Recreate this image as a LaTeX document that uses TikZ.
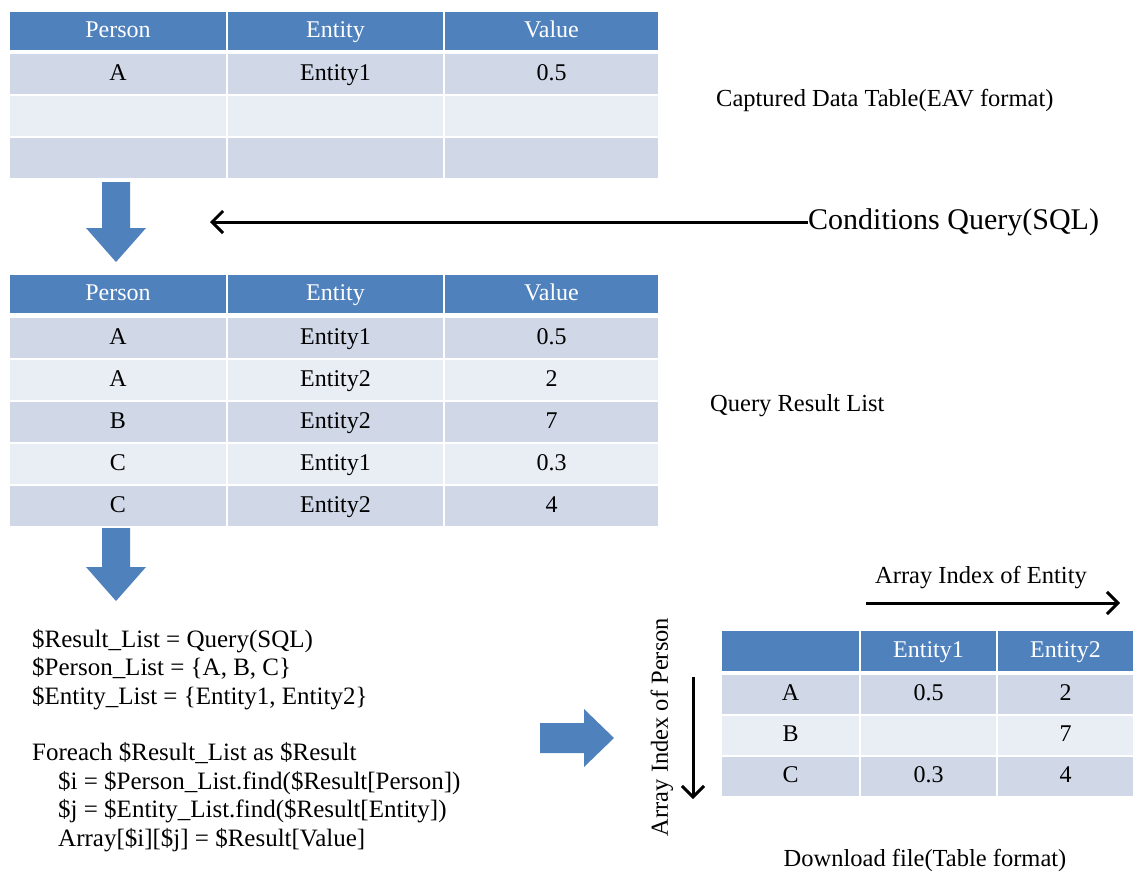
\documentclass[tikz,border=0pt]{standalone}
\usepackage{fontspec}
\setmainfont{Liberation Serif}
\usepackage{tikz}
\usetikzlibrary{arrows.meta}

\definecolor{headblue}{HTML}{4F81BD}
\definecolor{rowdark}{HTML}{D0D8E8}
\definecolor{rowlight}{HTML}{E9EDF4}

\begin{document}
\begin{tikzpicture}[x=1pt, y=-1pt,
  hcell/.style={fill=headblue, text=white, inner sep=0pt, minimum height=38, text height=17pt, text depth=5pt, font=\fontsize{24}{28}\selectfont},
  cell/.style={inner sep=0pt, minimum height=40, text height=17pt, text depth=5pt, font=\fontsize{24}{28}\selectfont},
  lbl/.style={inner sep=0pt, font=\fontsize{24.5}{28}\selectfont},
  flow/.style={line width=3pt, -{Straight Barb[length=11pt, width=22pt, line width=3pt]}},
  blockarrow/.style={fill=headblue}]
\fill[white] (0,0) rectangle (1133,873);
\useasboundingbox (0,0) rectangle (1133,873);

% captured data table (EAV)
\foreach \cx/\w/\txt [count=\i] in {118/216/Person, 335.5/215/Entity, 551.5/213/Value}
  \node[hcell, minimum width=\w] (cap-h\i) at (\cx,31) {\txt};
\foreach \cy/\fc/\a/\b/\c [count=\r] in {74/rowdark/A/Entity1/0.5, 116/rowlight/{}/{}/{}, 158/rowdark/{}/{}/{}} {
  \node[cell, fill=\fc, minimum width=216] (cap-\r-1) at (118,\cy) {\a};
  \node[cell, fill=\fc, minimum width=215] (cap-\r-2) at (335.5,\cy) {\b};
  \node[cell, fill=\fc, minimum width=213] (cap-\r-3) at (551.5,\cy) {\c};
}
\node[lbl, anchor=west] (caplbl) at (716,100) {Captured Data Table(EAV format)};

% query
\fill[blockarrow] (102,182) -- (130,182) -- (130,228) -- (146,228) -- (116,262) -- (86,228) -- (102,228) -- cycle;
\coordinate (qtip) at (210,222);
\node[inner sep=0pt, anchor=west, font=\fontsize{30}{34}\selectfont] (cond) at (808,222) {Conditions Query(SQL)};
\draw[flow] (cond.west) -- (qtip);

% query result list
\foreach \cx/\w/\txt [count=\i] in {118/216/Person, 335.5/215/Entity, 551.5/213/Value}
  \node[hcell, minimum width=\w] (res-h\i) at (\cx,294) {\txt};
\foreach \cy/\fc/\a/\b/\c [count=\r] in {338/rowdark/A/Entity1/0.5, 380/rowlight/A/Entity2/2, 422/rowdark/B/Entity2/7, 464/rowlight/C/Entity1/0.3, 506/rowdark/C/Entity2/4} {
  \node[cell, fill=\fc, minimum width=216] (res-\r-1) at (118,\cy) {\a};
  \node[cell, fill=\fc, minimum width=215] (res-\r-2) at (335.5,\cy) {\b};
  \node[cell, fill=\fc, minimum width=213] (res-\r-3) at (551.5,\cy) {\c};
}
\node[lbl, anchor=west] (reslbl) at (710,406) {Query Result List};

\fill[blockarrow] (102,528) -- (130,528) -- (130,567) -- (146,567) -- (116,601) -- (86,567) -- (102,567) -- cycle;

% pseudo code
\node[inner sep=0pt, anchor=north west, align=left, font=\fontsize{25}{28.4}\selectfont] (code) at (32,629) {%
\$Result\_List = Query(SQL)\\
\$Person\_List = \{A, B, C\}\\
\$Entity\_List = \{Entity1, Entity2\}\\[28.4pt]
Foreach \$Result\_List as \$Result\\
\hspace*{26pt}\$i = \$Person\_List.find(\$Result[Person])\\
\hspace*{26pt}\$j = \$Entity\_List.find(\$Result[Entity])\\
\hspace*{26pt}Array[\$i][\$j] = \$Result[Value]};

\fill[blockarrow] (540,723) -- (584,723) -- (584,709) -- (614,738) -- (584,767) -- (584,753) -- (540,753) -- cycle;

% download table
\node[hcell, minimum width=137, minimum height=40] (dl-h0) at (790.5,651) {};
\node[hcell, minimum width=135, minimum height=40] (dl-h1) at (928.5,651) {Entity1};
\node[hcell, minimum width=135, minimum height=40] (dl-h2) at (1065.5,651) {Entity2};
\foreach \cy/\fc/\a/\b/\c [count=\r] in {694/rowdark/A/0.5/2, 735/rowlight/B/{}/7, 776/rowdark/C/0.3/4} {
  \node[cell, fill=\fc, minimum width=137, minimum height=39] (dl-\r-0) at (790.5,\cy) {\a};
  \node[cell, fill=\fc, minimum width=135, minimum height=39] (dl-\r-1) at (928.5,\cy) {\b};
  \node[cell, fill=\fc, minimum width=135, minimum height=39] (dl-\r-2) at (1065.5,\cy) {\c};
}

\node[lbl] (entlbl) at (981,578) {Array Index of Entity};
\coordinate (ent-a) at (866,603);
\coordinate (ent-b) at (1120,603);
\draw[flow] (ent-a) -- (ent-b);

\node[lbl, rotate=90] (perlbl) at (662,727) {Array Index of Person};
\coordinate (per-a) at (693,677);
\coordinate (per-b) at (693,799);
\draw[flow] (per-a) -- (per-b);

\node[lbl] (dllbl) at (925,860) {Download file(Table format)};
\end{tikzpicture}
\end{document}
